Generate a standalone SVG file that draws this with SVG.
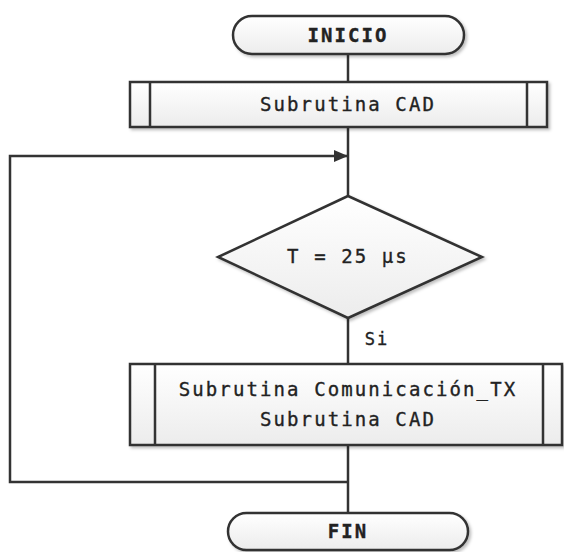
<svg xmlns="http://www.w3.org/2000/svg" width="564" height="552" viewBox="0 0 564 552">
<defs>
<linearGradient id="g" x1="0" y1="0" x2="0" y2="1">
<stop offset="0" stop-color="#ffffff"/>
<stop offset="1" stop-color="#ececec"/>
</linearGradient>
<marker id="ah" viewBox="0 0 14 12" refX="14" refY="6" markerWidth="14" markerHeight="12" markerUnits="userSpaceOnUse" orient="auto">
<path d="M0,0 L14,6 L0,12 Z" fill="#333"/>
</marker>
<filter id="sh" x="-5%" y="-5%" width="115%" height="130%">
<feDropShadow dx="2" dy="2" stdDeviation="1.5" flood-color="#000" flood-opacity="0.25"/>
</filter>
</defs>
<style>
.s{fill:url(#g);stroke:#333;stroke-width:2.5;filter:url(#sh)}
.l{fill:none;stroke:#333;stroke-width:2.5}
.t{font-family:"DejaVu Sans Mono","Liberation Mono",monospace;font-size:19px;fill:#222;stroke:#222;stroke-width:0.35;text-anchor:middle;letter-spacing:2.1px}
.b{font-weight:bold}
</style>
<g id="connectors">
<path class="l" d="M348,54 V82"/>
<path class="l" d="M348,127 V196"/>
<path class="l" d="M348,318 V364"/>
<path class="l" d="M348,445 V513"/>
<path class="l" d="M348,482 H10 V156 H348" marker-end="url(#ah)"/>
<text class="t" x="377" y="345" style="font-size:17px">Si</text>
</g>
<g id="inicio">
<rect class="s" x="233" y="16" width="231" height="38" rx="19"/>
<text class="t b" x="348" y="42">INICIO</text>
</g>
<g id="cad">
<rect class="s" x="130" y="82" width="417" height="45"/>
<path class="l" d="M150,82 V127 M527,82 V127"/>
<text class="t" x="348" y="111">Subrutina CAD</text>
</g>
<g id="decision">
<polygon class="s" points="348,196 482,257 348,318 218,257"/>
<text class="t" x="348" y="263">T = 25 µs</text>
</g>
<g id="subs">
<rect class="s" x="130" y="364" width="432" height="81"/>
<path class="l" d="M155,364 V445 M543,364 V445"/>
<text class="t" x="348" y="396">Subrutina Comunicación_TX</text>
<text class="t" x="348" y="426">Subrutina CAD</text>
</g>
<g id="fin">
<rect class="s" x="228" y="513" width="240" height="37" rx="18.5"/>
<text class="t b" x="348" y="538">FIN</text>
</g>
</svg>
